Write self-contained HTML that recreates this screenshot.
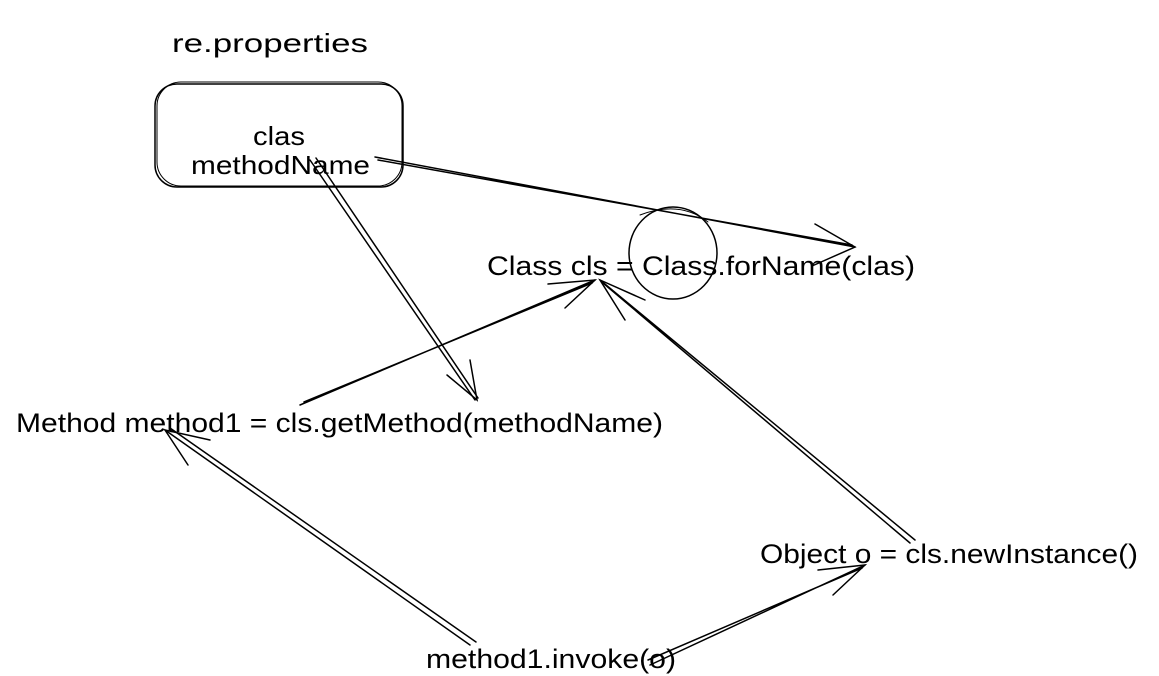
<!DOCTYPE html>
<html><head><meta charset="utf-8"><style>
html,body{margin:0;padding:0;background:#fff;width:1159px;height:676px;overflow:hidden}
svg{display:block}
text{font-family:"Liberation Sans",Arial,sans-serif;fill:#000}
</style></head><body>
<svg width="1159" height="676" viewBox="0 0 1159 676" xmlns="http://www.w3.org/2000/svg">
<g fill="none" stroke="#000" stroke-width="1.5" stroke-linecap="round">
<rect x="155" y="84" width="248" height="103" rx="22" ry="22"/>
<rect x="157" y="82" width="245" height="104" rx="24" ry="24" stroke-width="1"/>
<ellipse cx="673" cy="253" rx="44" ry="46"/>
<path d="M640 215 Q680 200 708 222" stroke-width="1"/>
<path d="M375 157 L855 247 M378 160 L852 245"/>
<path d="M815 224 L855 247 L812 266"/>
<path d="M310 160 L475 400 M316 158 L478 398"/>
<path d="M470 360 L477 400 L447 375"/>
<path d="M300 405 L595 280 M304 402 L592 283"/>
<path d="M548 284 L595 280 L565 308"/>
<path d="M915 540 L600 280 M910 543 L603 283"/>
<path d="M625 320 L600 280 L645 300"/>
<path d="M470 645 L165 430 M476 642 L170 428"/>
<path d="M210 440 L165 430 L188 465"/>
<path d="M650 665 L865 565 M648 660 L862 568"/>
<path d="M818 570 L865 565 L833 595"/>
</g>
<text x="172" y="52" font-size="26" textLength="196" lengthAdjust="spacingAndGlyphs">re.properties</text>
<text x="253" y="145" font-size="26" textLength="52" lengthAdjust="spacingAndGlyphs">clas</text>
<text x="191" y="174" font-size="26" textLength="179" lengthAdjust="spacingAndGlyphs">methodName</text>
<text x="487" y="275" font-size="27" textLength="428" lengthAdjust="spacingAndGlyphs">Class cls = Class.forName(clas)</text>
<text x="16" y="432" font-size="27" textLength="647" lengthAdjust="spacingAndGlyphs">Method method1 = cls.getMethod(methodName)</text>
<text x="760" y="563" font-size="27" textLength="378" lengthAdjust="spacingAndGlyphs">Object o = cls.newInstance()</text>
<text x="426" y="668" font-size="27" textLength="250" lengthAdjust="spacingAndGlyphs">method1.invoke(o)</text>
</svg>
</body></html>
